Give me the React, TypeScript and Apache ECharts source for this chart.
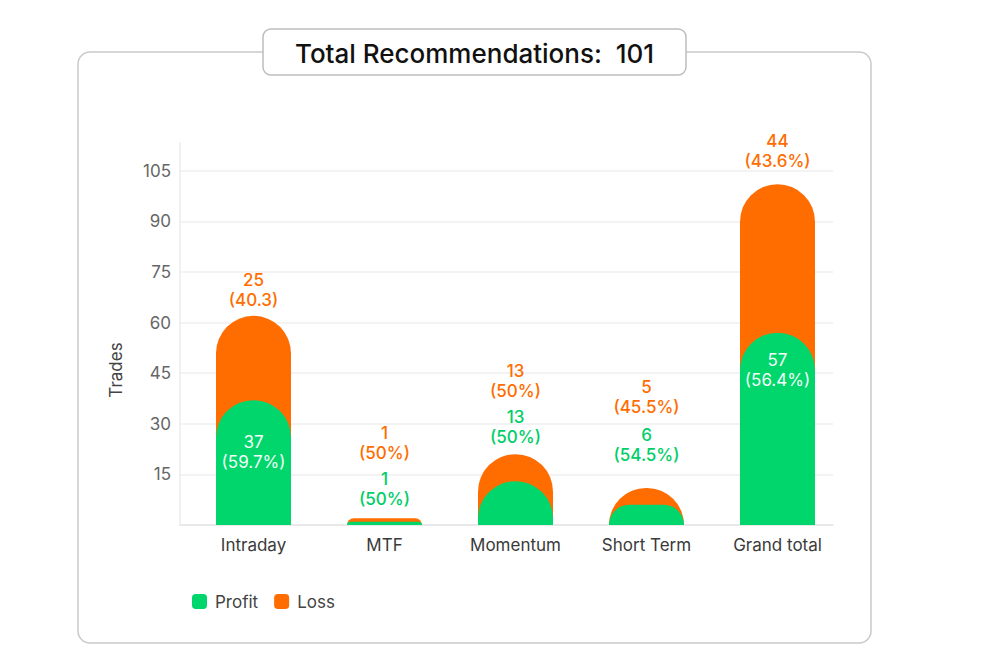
import React, { useEffect, useRef } from "react";
import * as echarts from "echarts";

// ---- data ----
const categories = ["Intraday", "MTF", "Momentum", "Short Term", "Grand total"];
const profitCounts = [37, 1, 13, 6, 57];
const profitPct = ["59.7%", "50%", "50%", "54.5%", "56.4%"];
const lossCounts = [25, 1, 13, 5, 44];
const lossPct = ["40.3", "50%", "50%", "45.5%", "43.6%"];
// height of the orange (loss) bar as drawn behind the profit bar
const lossBarHeights = [62, 2, 21, 11, 101];
const totalRecommendations = 101;
const yMin = 0;
const yMax = 113.2;
const yInterval = 15;

// ---- styling (label placement per bar) ----
const lossLabelGaps = [6, 55, 53, 71, 13];
const profitLabelPlacement = [
  { position: "insideTop", distance: 32, inside: true },
  { position: "top", distance: 13, inside: false },
  { position: "top", distance: 34, inside: false },
  { position: "top", distance: 40, inside: false },
  { position: "insideTop", distance: 17, inside: true },
];

const GREEN = "#00D66C";
const GREEN_TEXT = "#00CE68";
const ORANGE = "#FF6D00";
const FONT = "Inter, 'Noto Sans', sans-serif";

export default function App() {
  const ref = useRef<HTMLDivElement>(null);

  useEffect(() => {
    if (!ref.current) return;
    const chart = echarts.init(ref.current, null, { renderer: "svg" });

    const labelBase = {
      show: true,
      fontSize: 17,
      lineHeight: 20,
      fontWeight: 500,
      fontFamily: FONT,
      align: "center",
    };

    const option: any = {
      animation: false,
      textStyle: { fontFamily: FONT },
      graphic: [
        {
          type: "rect",
          z: -10,
          silent: true,
          shape: { x: 78, y: 52, width: 793, height: 591, r: 12 },
          style: { fill: "#ffffff", stroke: "#c9c9c9", lineWidth: 1.5 },
        },
        {
          type: "rect",
          z: -9,
          silent: true,
          shape: { x: 263, y: 29, width: 423, height: 46, r: 8 },
          style: { fill: "#ffffff", stroke: "#bdbdbd", lineWidth: 1.5 },
        },
        {
          type: "text",
          z: -8,
          x: 474.5,
          y: 53,
          style: {
            text: `Total Recommendations:  ${totalRecommendations}`,
            textAlign: "center",
            textVerticalAlign: "middle",
            fontSize: 26,
            fontWeight: 500,
            fontFamily: FONT,
            fill: "#111111",
          },
        },
        {
          type: "text",
          x: 116,
          y: 370,
          rotation: Math.PI / 2,
          style: {
            text: "Trades",
            textAlign: "center",
            textVerticalAlign: "middle",
            fontSize: 17,
            fontFamily: FONT,
            fill: "#444444",
          },
        },
      ],
      legend: {
        data: ["Profit", "Loss"],
        left: 192,
        top: 593,
        padding: 0,
        itemWidth: 15,
        itemHeight: 15,
        itemGap: 16,
        icon: "roundRect",
        textStyle: { fontSize: 17, color: "#444444", fontFamily: FONT, padding: [0, 0, 0, 3] },
      },
      grid: [
        { left: 180, top: 143, width: 653, height: 382, containLabel: false },
        { left: 188, top: 143, width: 655, height: 382, containLabel: false },
      ],
      xAxis: [
        {
          gridIndex: 0,
          type: "category",
          data: categories,
          axisLine: { show: true, lineStyle: { color: "#e6e6e6", width: 1.5 } },
          axisTick: { show: false },
          axisLabel: { show: false },
          splitLine: { show: false },
        },
        {
          gridIndex: 1,
          type: "category",
          data: categories,
          axisLine: { show: false },
          axisTick: { show: false },
          axisLabel: { show: true, fontSize: 17, color: "#3a3a3a", margin: 11, fontFamily: FONT },
          splitLine: { show: false },
        },
      ],
      yAxis: [
        {
          gridIndex: 0,
          type: "value",
          min: yMin,
          max: yMax,
          interval: yInterval,
          axisLine: { show: true, lineStyle: { color: "#ebebeb", width: 1.5 } },
          axisTick: { show: false },
          axisLabel: {
            fontSize: 17,
            color: "#666666",
            margin: 9,
            fontFamily: FONT,
            formatter: (v: number) => (v === 0 ? "" : String(v)),
            showMaxLabel: false,
          },
          splitLine: {
            show: true,
            showMaxLine: false,
            lineStyle: { color: "#efefef", width: 1.5 },
          },
        },
        {
          gridIndex: 1,
          type: "value",
          min: yMin,
          max: yMax,
          interval: yInterval,
          show: false,
          splitLine: { show: false },
        },
      ],
      series: [
        {
          name: "Loss",
          type: "bar",
          xAxisIndex: 1,
          yAxisIndex: 1,
          barWidth: 75,
          barGap: "-100%",
          itemStyle: { color: ORANGE, borderRadius: [37.5, 37.5, 0, 0] },
          label: {
            ...labelBase,
            position: "top",
            color: ORANGE,
            formatter: (p: any) => `${lossCounts[p.dataIndex]}\n(${lossPct[p.dataIndex]})`,
          },
          data: lossBarHeights.map((v, i) => ({
            value: v,
            label: { distance: lossLabelGaps[i] },
          })),
        },
        {
          name: "Profit",
          type: "bar",
          xAxisIndex: 1,
          yAxisIndex: 1,
          barWidth: 75,
          barGap: "-100%",
          itemStyle: { color: GREEN, borderRadius: [37.5, 37.5, 0, 0] },
          label: {
            ...labelBase,
            formatter: (p: any) => `${profitCounts[p.dataIndex]}\n(${profitPct[p.dataIndex]})`,
          },
          data: profitCounts.map((v, i) => {
            const pl = profitLabelPlacement[i];
            return {
              value: v,
              label: {
                position: pl.position,
                distance: pl.distance,
                color: pl.inside ? "#f4fff8" : GREEN_TEXT,
                fontWeight: pl.inside ? 400 : 500,
              },
            };
          }),
        },
      ],
    };

    chart.setOption(option);
    return () => chart.dispose();
  }, []);

  return (
    <div
      ref={ref}
      style={{ position: "absolute", left: 0, top: 0, width: 984, height: 660 }}
    />
  );
}
